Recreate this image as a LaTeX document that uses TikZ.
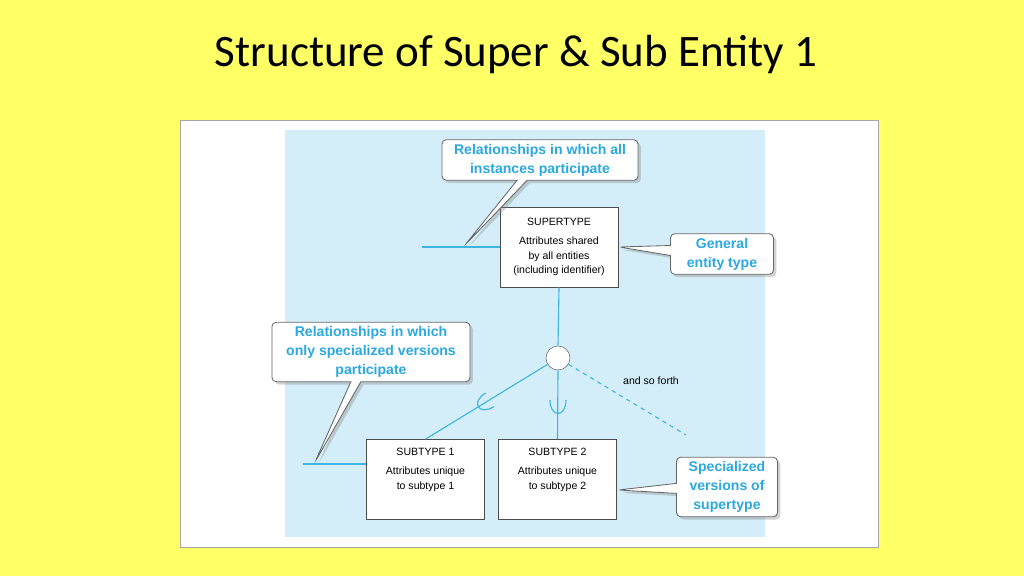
\documentclass[tikz,border=0pt]{standalone}
\usepackage{fontspec}
\setmainfont{Liberation Sans}
\newfontfamily\titlefont{Carlito}
\usetikzlibrary{shapes.callouts,shadows}
\definecolor{bgyellow}{HTML}{FFFF66}
\definecolor{panelblue}{HTML}{D4EEF9}
\definecolor{linkblue}{HTML}{3DB5E0}
\definecolor{notetext}{HTML}{2AA9E0}
\tikzset{
	entity/.style={draw=black!70,fill=white,line width=0.5pt,minimum width=118*0.025cm,minimum height=80*0.025cm,align=center,font=\fontsize{7.5}{10.5}\selectfont,inner sep=2pt},
	note/.style={rectangle callout,draw=black!60,fill=white,rounded corners=3pt,line width=0.6pt,align=center,text=notetext,font=\fontsize{10}{13.5}\selectfont\bfseries,drop shadow={opacity=0.35,shadow xshift=2pt,shadow yshift=-2pt},inner sep=3pt},
	link/.style={draw=linkblue,line width=0.8pt}
}
\begin{document}
\begin{tikzpicture}[x=0.025cm,y=-0.025cm]
	\useasboundingbox (0,0) rectangle (1024,576);
	\fill[bgyellow] (0,0) rectangle (1024,576);
	\node[font=\titlefont\fontsize{32}{38}\selectfont] (title) at (516,55) {Structure of Super \& Sub Entity 1};
	
	\draw[black!35,fill=white] (180,120) rectangle (878,547);
	\fill[panelblue] (285,130) rectangle (765,537);
	
		\node[entity] (super) at (559,247) {SUPERTYPE\\[3pt]Attributes shared\\by all entities\\(including identifier)};
		\node[entity] (sub1) at (425.5,479.5) {};
		\node[entity] (sub2) at (557.5,479.5) {};
		\node[align=center,font=\fontsize{7.5}{10.5}\selectfont,anchor=north] (sub1txt) at (425.5,443) {SUBTYPE 1\\[3pt]Attributes unique\\to subtype 1};
		\node[align=center,font=\fontsize{7.5}{10.5}\selectfont,anchor=north] (sub2txt) at (557.5,443) {SUBTYPE 2\\[3pt]Attributes unique\\to subtype 2};
		\node[draw=black!60,fill=white,circle,minimum size=24*0.025cm,inner sep=0pt] (isa) at (558,358) {};
		
		\coordinate (superfree) at (422,247);
		\coordinate (subfree) at (303,464);
		\coordinate (more) at (686,435);
		
		\draw[link] (super.west) -- (superfree);
		\draw[link] (sub1.west |- subfree) -- (subfree);
		\draw[link] (super.south) -- (isa.north);
		\draw[link] (isa) -- (sub1.north);
		\draw[link] (isa.south) -- (sub2.north);
		\draw[link,dashed] (isa) -- (more);
		\node[font=\fontsize{7.5}{9}\selectfont] (forth) at (651,381) {and so forth};
		
		% subset marks
		\draw[link] (550,400) .. controls (550,418) and (566,418) .. (566,400);
		\draw[link] (494,406.6) .. controls (478.7,416) and (470.3,402.4) .. (485.6,393);
		
		\node[note,callout absolute pointer={(465,245)},minimum width=196*0.025cm] (allnote) at (540,160) {Relationships in which all\\instances participate};
		\node[note,callout absolute pointer={(619,247)},minimum width=103*0.025cm] (gennote) at (722,254) {General\\entity type};
		\node[note,callout absolute pointer={(315,462)},minimum width=198*0.025cm] (onlynote) at (371,352) {Relationships in which\\only specialized versions\\participate};
		\node[note,callout absolute pointer={(618,490)},minimum width=101*0.025cm] (specnote) at (727,487) {Specialized\\versions of\\supertype};
	
\end{tikzpicture}
\end{document}
